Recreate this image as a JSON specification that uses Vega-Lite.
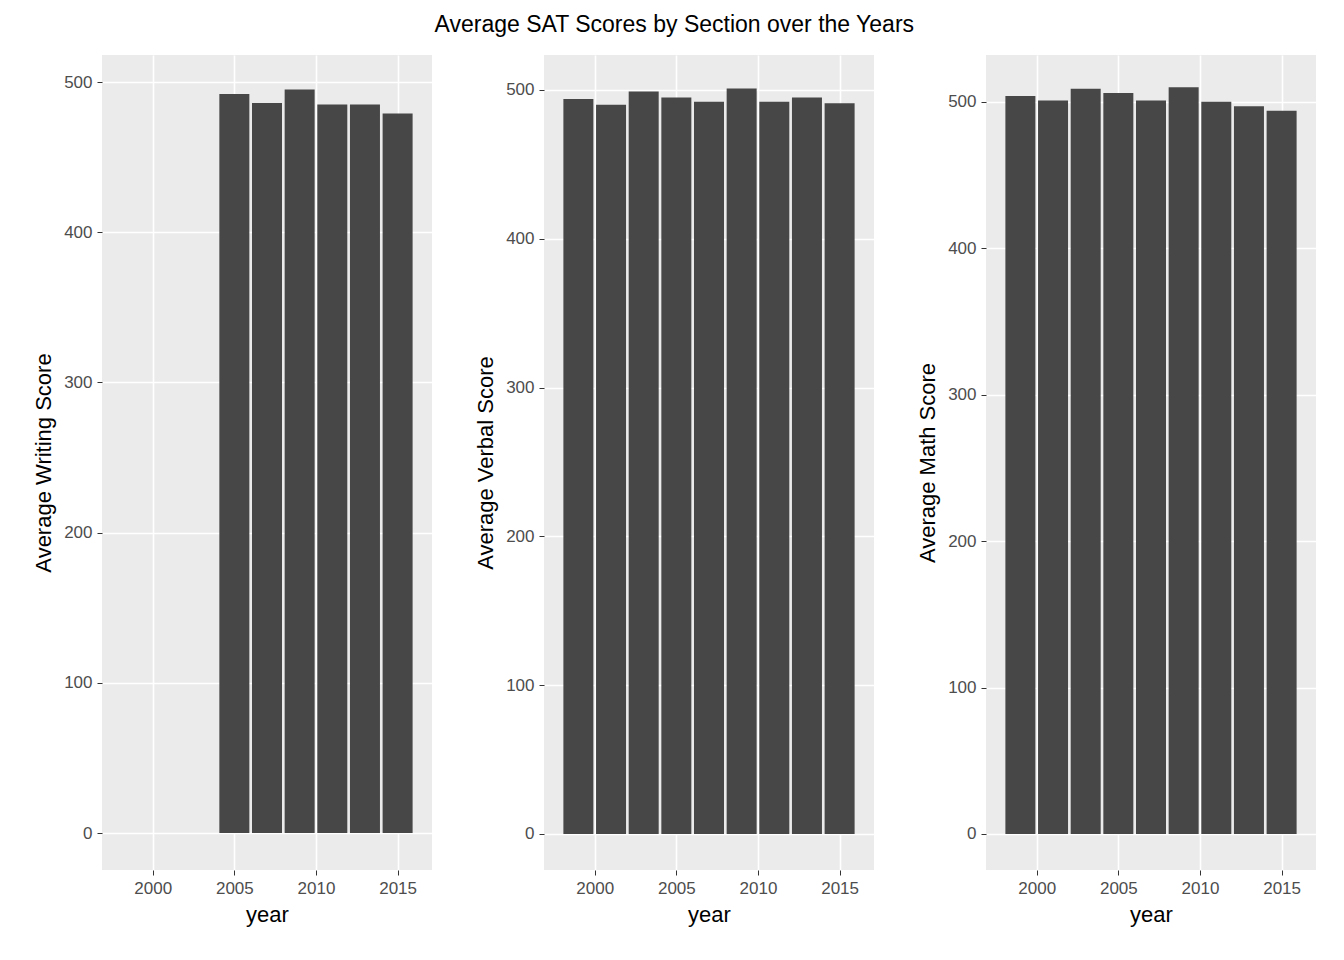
{
  "$schema": "https://vega.github.io/schema/vega-lite/v6.json",
  "padding": {"left": 32, "top": 14, "right": 10, "bottom": 10},
  "title": {"text": "Average SAT Scores by Section over the Years", "fontSize": 23, "font": "Liberation Sans", "fontWeight": "normal", "anchor": "middle", "color": "black", "offset": 18},
  "data": {"values": [
    {"year": 1999, "verbal": 494, "math": 504, "writing": null},
    {"year": 2001, "verbal": 490, "math": 501, "writing": null},
    {"year": 2003, "verbal": 499, "math": 509, "writing": null},
    {"year": 2005, "verbal": 495, "math": 506, "writing": 492},
    {"year": 2007, "verbal": 492, "math": 501, "writing": 486},
    {"year": 2009, "verbal": 501, "math": 510, "writing": 495},
    {"year": 2011, "verbal": 492, "math": 500, "writing": 485},
    {"year": 2013, "verbal": 495, "math": 497, "writing": 485},
    {"year": 2015, "verbal": 491, "math": 494, "writing": 479}
  ]},
  "spacing": 42,
  "hconcat": [
    {
      "width": 330, "height": 815,
      "mark": {"type": "bar", "size": 30, "color": "#474747"},
      "encoding": {
        "x": {"field": "year", "type": "quantitative", "scale": {"domain": [1997.2, 2016.8], "nice": false, "zero": false}, "axis": {"values": [2000, 2005, 2010, 2015], "format": "d"}, "title": "year"},
        "y": {"field": "writing", "type": "quantitative", "scale": {"domain": [-24.6, 518], "nice": false}, "axis": {"values": [0, 100, 200, 300, 400, 500]}, "title": "Average Writing Score"}
      }
    },
    {
      "width": 330, "height": 815,
      "mark": {"type": "bar", "size": 30, "color": "#474747"},
      "encoding": {
        "x": {"field": "year", "type": "quantitative", "scale": {"domain": [1997.2, 2016.8], "nice": false, "zero": false}, "axis": {"values": [2000, 2005, 2010, 2015], "format": "d"}, "title": "year"},
        "y": {"field": "verbal", "type": "quantitative", "scale": {"domain": [-24.2, 523.5], "nice": false}, "axis": {"values": [0, 100, 200, 300, 400, 500]}, "title": "Average Verbal Score"}
      }
    },
    {
      "width": 330, "height": 815,
      "mark": {"type": "bar", "size": 30, "color": "#474747"},
      "encoding": {
        "x": {"field": "year", "type": "quantitative", "scale": {"domain": [1997.2, 2016.8], "nice": false, "zero": false}, "axis": {"values": [2000, 2005, 2010, 2015], "format": "d"}, "title": "year"},
        "y": {"field": "math", "type": "quantitative", "scale": {"domain": [-24.6, 532], "nice": false}, "axis": {"values": [0, 100, 200, 300, 400, 500]}, "title": "Average Math Score"}
      }
    }
  ],
  "config": {
    "view": {"fill": "#EBEBEB", "stroke": null},
    "axis": {
      "domain": false, "grid": true, "gridColor": "white", "gridWidth": 1.6,
      "tickColor": "#333333", "tickSize": 5,
      "labelFont": "Liberation Sans", "labelFontSize": 17, "labelColor": "#4D4D4D", "labelPadding": 5,
      "titleFont": "Liberation Sans", "titleFontSize": 22, "titleFontWeight": "normal", "titleColor": "black", "titlePadding": 8
    }
  }
}
